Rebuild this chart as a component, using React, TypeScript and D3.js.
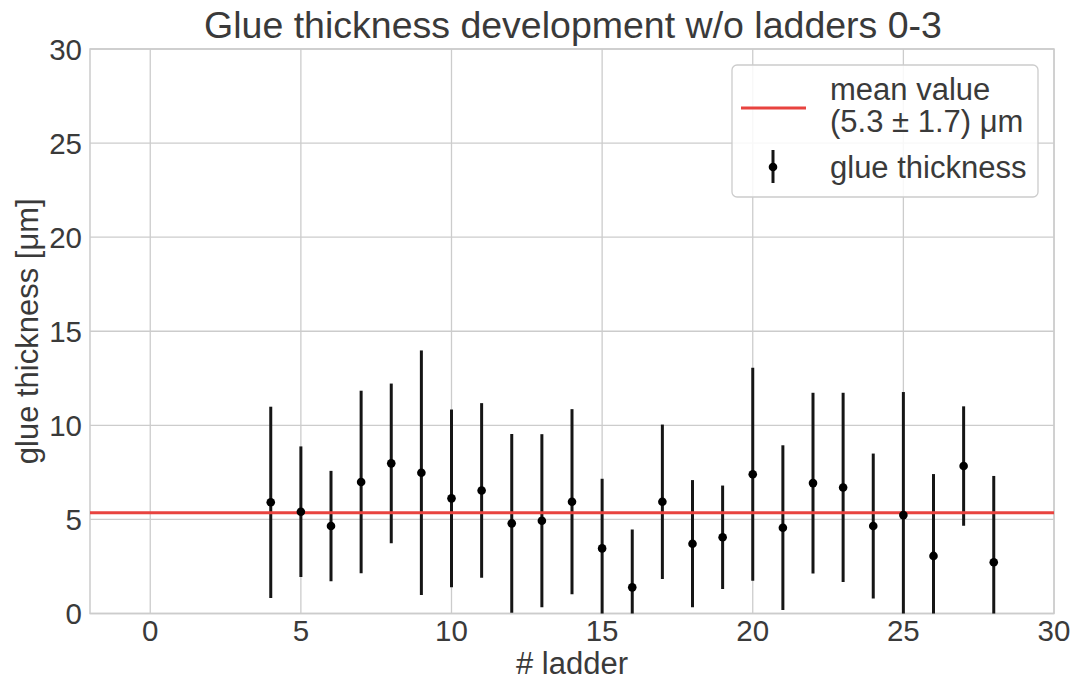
import React from "react";
import * as d3 from "d3";

const ladders = [4, 5, 6, 7, 8, 9, 10, 11, 12, 13, 14, 15, 16, 17, 18, 19, 20, 21, 22, 23, 24, 25, 26, 27, 28];
const thickness = [5.91, 5.41, 4.65, 6.99, 7.98, 7.48, 6.12, 6.54, 4.79, 4.93, 5.94, 3.46, 1.39, 5.94, 3.71, 4.05, 7.4, 4.56, 6.93, 6.7, 4.65, 5.23, 3.06, 7.84, 2.72];
const errors = [5.08, 3.47, 2.93, 4.85, 4.24, 6.5, 4.72, 4.64, 4.75, 4.6, 4.92, 3.7, 3.08, 4.1, 3.38, 2.75, 5.66, 4.38, 4.8, 5.03, 3.85, 6.54, 4.35, 3.17, 4.59];
const meanValue = 5.36;
const xTicks = [0, 5, 10, 15, 20, 25, 30];
const yTicks = [0, 5, 10, 15, 20, 25, 30];

const W = 1076;
const H = 679;
const M = { left: 90, right: 1054, top: 49, bottom: 613.5 };
const FONT = "'Liberation Sans', Arial, sans-serif";
const TEXT = "#3a3a3a";
const GRID = "#cccccc";
const RED = "#e8433f";

export default function App() {
  const x = d3.scaleLinear().domain([-2, 30]).range([M.left, M.right]);
  const y = d3.scaleLinear().domain([0, 30]).range([M.bottom, M.top]);
  const clipId = "plotclip";
  return (
    <svg width={W} height={H} style={{ position: "absolute", left: 0, top: 0, background: "#fff" }} fontFamily={FONT}>
      <defs>
        <clipPath id={clipId}>
          <rect x={M.left} y={M.top} width={M.right - M.left} height={M.bottom - M.top} />
        </clipPath>
      </defs>
      <rect x={0} y={0} width={W} height={H} fill="#fff" />
      {/* grid */}
      {xTicks.map((t) => (
        <line key={"gx" + t} x1={x(t)} x2={x(t)} y1={M.top} y2={M.bottom} stroke={GRID} strokeWidth={1.3} />
      ))}
      {yTicks.map((t) => (
        <line key={"gy" + t} x1={M.left} x2={M.right} y1={y(t)} y2={y(t)} stroke={GRID} strokeWidth={1.3} />
      ))}
      <rect x={M.left} y={M.top} width={M.right - M.left} height={M.bottom - M.top} fill="none" stroke={GRID} strokeWidth={1.5} />
      {/* tick labels */}
      {xTicks.map((t) => (
        <text key={"tx" + t} x={x(t)} y={641} textAnchor="middle" fontSize={29.5} fill={TEXT}>
          {t}
        </text>
      ))}
      {yTicks.map((t) => (
        <text key={"ty" + t} x={82} y={y(t)} dy="0.36em" textAnchor="end" fontSize={29.5} fill={TEXT}>
          {t}
        </text>
      ))}
      {/* axis labels */}
      <text x={(M.left + M.right) / 2} y={674} textAnchor="middle" fontSize={31} fill={TEXT}>
        # ladder
      </text>
      <text transform={`translate(38, ${(M.top + M.bottom) / 2}) rotate(-90)`} textAnchor="middle" fontSize={31} fill={TEXT}>
        glue thickness [μm]
      </text>
      {/* title */}
      <text x={(M.left + M.right) / 2 + 1} y={38} textAnchor="middle" fontSize={37.5} fill={TEXT}>
        Glue thickness development w/o ladders 0-3
      </text>
      <g clipPath={`url(#${clipId})`}>
        {ladders.map((l, i) => (
          <line
            key={"e" + l}
            x1={x(l)}
            x2={x(l)}
            y1={y(thickness[i] - errors[i])}
            y2={y(thickness[i] + errors[i])}
            stroke="#151515"
            strokeWidth={3}
          />
        ))}
        <line x1={M.left} x2={M.right} y1={y(meanValue)} y2={y(meanValue)} stroke={RED} strokeWidth={3} />
        {ladders.map((l, i) => (
          <circle key={"p" + l} cx={x(l)} cy={y(thickness[i])} r={4.3} fill="#000" />
        ))}
      </g>
      {/* legend */}
      <rect x={732} y={65} width={306} height={132} rx={5} fill="#fff" fillOpacity={0.85} stroke={GRID} strokeWidth={1.3} />
      <line x1={741} x2={806} y1={108} y2={108} stroke={RED} strokeWidth={3} />
      <text x={830} y={100} fontSize={31} fill={TEXT}>mean value</text>
      <text x={830} y={132} fontSize={31} fill={TEXT}>(5.3 ± 1.7) μm</text>
      <line x1={773} x2={773} y1={150} y2={183} stroke="#151515" strokeWidth={3} />
      <circle cx={773} cy={167} r={4.3} fill="#000" />
      <text x={830} y={178} fontSize={31} fill={TEXT}>glue thickness</text>
    </svg>
  );
}
